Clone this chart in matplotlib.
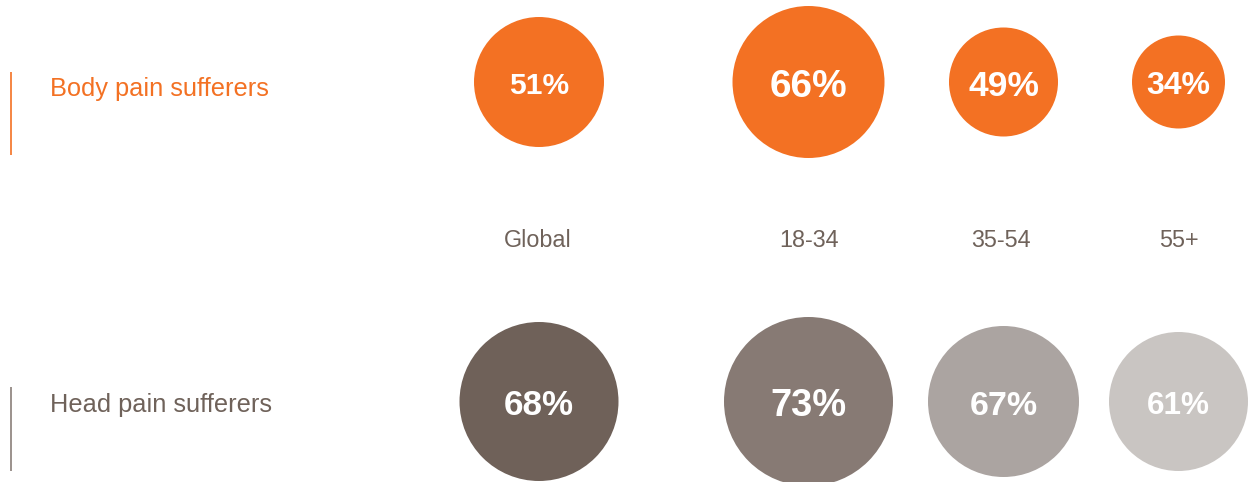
import matplotlib.pyplot as plt
from matplotlib.patches import Circle

# data
groups = ["Global", "18-34", "35-54", "55+"]
body_pct = [51, 66, 49, 34]
head_pct = [68, 73, 67, 61]
row_names = ["Body pain sufferers", "Head pain sufferers"]

# layout (pixels)
col_x = [539, 808.5, 1003.5, 1178.5]
label_x = [538, 809, 1001, 1178.5]
row_y = [82, 401.5]
label_base = 247
body_r = [65, 76, 54.5, 46.5]
head_r = [79.5, 84.5, 75.5, 69.5]
body_fs = [21.6, 28, 25.5, 23]
head_fs = [25.2, 27.4, 24.5, 22.7]

orange = "#F37123"
head_cols = ["#6F6159", "#877A74", "#ABA4A1", "#C9C5C2"]
grey_txt = "#6F625A"

plt.rcParams['font.family'] = ['Liberation Sans', 'DejaVu Sans']

def cap_shift(fs):
    # half the cap height in pixels, so the number sits in the middle of the disc
    return 0.5 * 0.716 * fs * 100 / 72

fig = plt.figure(figsize=(12.51, 4.82), dpi=100)
ax = fig.add_axes([0, 0, 1, 1])
ax.set_xlim(0, 1251)
ax.set_ylim(482, 0)
ax.set_aspect('equal')
ax.axis('off')

for i in range(len(groups)):
    ax.add_patch(Circle((col_x[i], row_y[0]), body_r[i], color=orange, lw=0))
    ax.text(col_x[i], row_y[0] + 1 + cap_shift(body_fs[i]), str(body_pct[i]) + "%",
            color="white", fontsize=body_fs[i], fontweight="bold", ha="center", va="baseline")
    ax.add_patch(Circle((col_x[i], row_y[1]), head_r[i], color=head_cols[i], lw=0))
    ax.text(col_x[i], row_y[1] + 1 + cap_shift(head_fs[i]), str(head_pct[i]) + "%",
            color="white", fontsize=head_fs[i], fontweight="bold", ha="center", va="baseline")
    ax.text(label_x[i], label_base, groups[i], color=grey_txt, fontsize=16.8,
            ha="center", va="baseline")

# row labels with side bars
ax.plot([11, 11], [72, 155], color=orange, lw=1.2, solid_capstyle="butt")
ax.plot([11, 11], [387, 471], color="#8A7F79", lw=1.2, solid_capstyle="butt")
ax.text(50, 96, row_names[0], color=orange, fontsize=18.3, ha="left", va="baseline")
ax.text(50, 412, row_names[1], color=grey_txt, fontsize=18.3, ha="left", va="baseline")

fig.savefig("out.png", dpi=100, facecolor="white")
